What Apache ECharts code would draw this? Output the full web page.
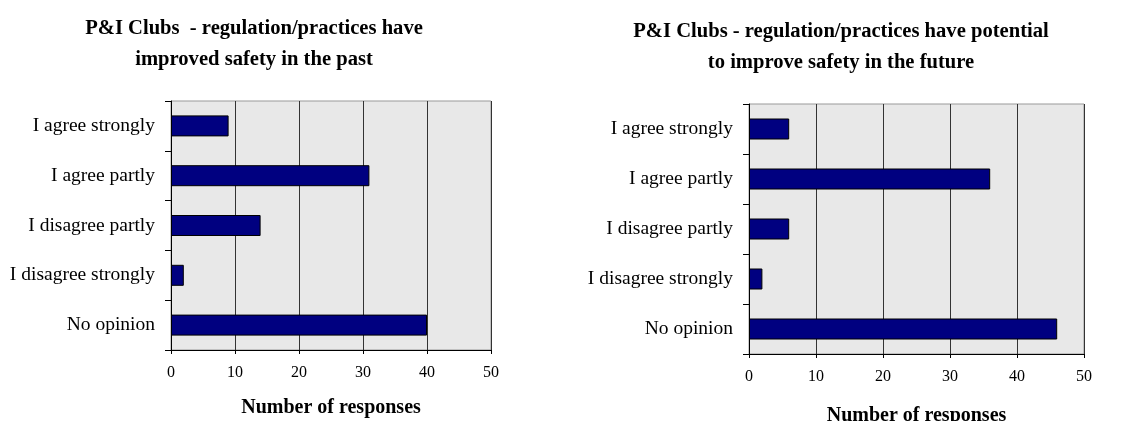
<!DOCTYPE html>
<html>
<head>
<meta charset="utf-8">
<script src="https://cdn.jsdelivr.net/npm/echarts@6/dist/echarts.min.js"></script>
<style>
  html, body { margin: 0; padding: 0; background: #fff; }
  #chart { width: 1140px; height: 421px; }
</style>
</head>
<body>
<div id="chart"></div>
<script>
// answer categories, top to bottom
const categories = ["I agree strongly", "I agree partly", "I disagree partly", "I disagree strongly", "No opinion"];
// responses: past improvement / future potential
const pastValues = [9, 31, 14, 2, 40];
const futureValues = [6, 36, 6, 2, 46];
const xTicks = [0, 10, 20, 30, 40, 50];

const serif = "'Liberation Serif', 'Times New Roman', serif";

function gridOpt(left, top, width, height) {
  return {
    left: left, top: top, width: width, height: height,
    outerBoundsMode: "none",
    containLabel: false,
    show: true,
    backgroundColor: "#e8e8e8",
    borderColor: "#999",
    borderWidth: 1
  };
}

function xAxisOpt(idx, gap) {
  return {
    gridIndex: idx,
    type: "value",
    min: xTicks[0],
    max: xTicks[xTicks.length - 1],
    interval: 10,
    name: "Number of responses",
    nameLocation: "middle",
    nameGap: gap,
    nameTextStyle: { fontFamily: serif, fontWeight: "bold", fontSize: 20, color: "#000" },
    axisLine: { show: true, lineStyle: { color: "#000", width: 1 } },
    axisTick: { show: true, length: 4, lineStyle: { color: "#000" } },
    axisLabel: { fontFamily: serif, fontSize: 16, color: "#000", margin: 15 },
    splitLine: { show: true, lineStyle: { color: "#333", width: 1 } }
  };
}

function yAxisOpt(idx) {
  return {
    gridIndex: idx,
    type: "category",
    data: categories,
    inverse: true,
    axisLine: { show: true, lineStyle: { color: "#000", width: 1 } },
    axisTick: { show: true, length: 6, lineStyle: { color: "#000" } },
    axisLabel: { fontFamily: serif, fontSize: 19.5, color: "#000", margin: 16 },
    splitLine: { show: false }
  };
}

function barSeries(idx, values) {
  return {
    type: "bar",
    xAxisIndex: idx,
    yAxisIndex: idx,
    data: values,
    barWidth: 21,
    itemStyle: { color: "#000080", borderColor: "#000", borderWidth: 1 },
    silent: true
  };
}

const myChart = echarts.init(document.getElementById("chart"));
const option = {
  backgroundColor: "#fff",
  animation: false,
  title: [
    {
      text: "P&I Clubs  - regulation/practices have\nimproved safety in the past",
      left: 249, top: 8, textAlign: "center",
      textStyle: { fontFamily: serif, fontWeight: "bold", fontSize: 20.6, lineHeight: 31, color: "#000" }
    },
    {
      text: "P&I Clubs - regulation/practices have potential\nto improve safety in the future",
      left: 836, top: 11, textAlign: "center",
      textStyle: { fontFamily: serif, fontWeight: "bold", fontSize: 20.6, lineHeight: 31, color: "#000" }
    }
  ],
  grid: [gridOpt(171, 101, 320, 249), gridOpt(749, 104, 335, 250)],
  xAxis: [xAxisOpt(0, 48), xAxisOpt(1, 52)],
  yAxis: [yAxisOpt(0), yAxisOpt(1)],
  series: [barSeries(0, pastValues), barSeries(1, futureValues)]
};
myChart.setOption(option);
</script>
</body>
</html>
